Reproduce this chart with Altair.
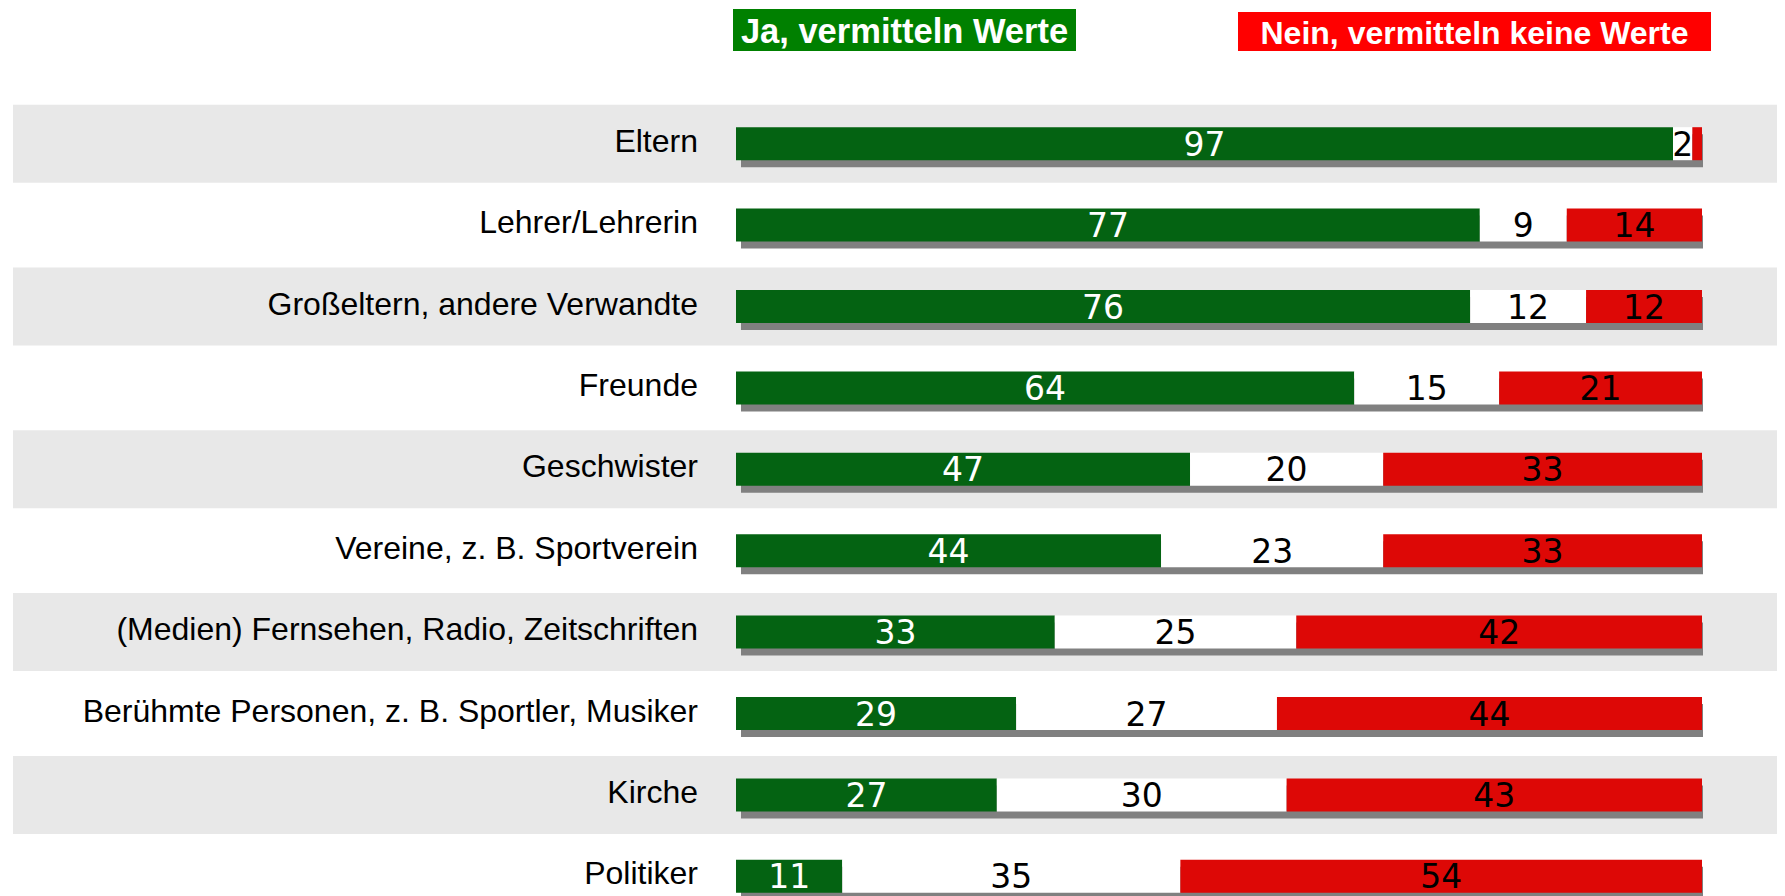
import altair as alt
import pandas as pd

# ---- data ----
categories = [
    "Eltern",
    "Lehrer/Lehrerin",
    "Großeltern, andere Verwandte",
    "Freunde",
    "Geschwister",
    "Vereine, z. B. Sportverein",
    "(Medien) Fernsehen, Radio, Zeitschriften",
    "Berühmte Personen, z. B. Sportler, Musiker",
    "Kirche",
    "Politiker",
]
ja = [97, 77, 76, 64, 47, 44, 33, 29, 27, 11]
weder = [2, 9, 12, 15, 20, 23, 25, 27, 30, 35]
nein = [1, 14, 12, 21, 33, 33, 42, 44, 43, 54]
series_names = ["Ja", "Weiß nicht", "Nein"]
legend_labels = ["Ja, vermitteln Werte", "Nein, vermitteln keine Werte"]

# ---- styles ----
GREEN = "#046312"
RED = "#DD0806"
LEG_GREEN = "#008000"
LEG_RED = "#FF0000"
BAND = "#E8E8E8"
SHADOW = "#808080"

W = 1764
H = 814

rows = []
for i, c in enumerate(categories):
    for j, (s, v) in enumerate(zip(series_names, [ja[i], weder[i], nein[i]])):
        rows.append({"cat": c, "series": s, "order": j, "value": v, "row": i})
df = pd.DataFrame(rows)
cat_df = pd.DataFrame({"cat": categories, "row": list(range(len(categories)))})
leg_df = pd.DataFrame({"label": legend_labels, "kind": ["ja", "nein"]})

xscale = alt.Scale(domain=[0, 100], range=[723, 1689], nice=False, zero=False)
yscale = alt.Scale(domain=categories, paddingInner=0, paddingOuter=0)
Y = alt.Y("cat:N", scale=yscale, axis=None, sort=categories)

bands = (
    alt.Chart(cat_df)
    .transform_filter("datum.row % 2 == 0")
    .mark_bar(size=78, color=BAND)
    .encode(y=Y, x=alt.value(0), x2=alt.value(W))
)

shadow = (
    alt.Chart(df)
    .transform_aggregate(total="sum(value)", groupby=["cat"])
    .transform_calculate(start="0")
    .mark_bar(size=33, color=SHADOW, xOffset=5, x2Offset=1, yOffset=7)
    .encode(y=Y, x=alt.X("start:Q", scale=xscale, axis=None), x2="total:Q")
)

stacked = alt.Chart(df).transform_stack(
    stack="value", groupby=["cat"], sort=[alt.SortField("order")], as_=["x0", "x1"]
)

segments = stacked.mark_bar(size=33).encode(
    y=Y,
    x=alt.X("x0:Q", scale=xscale, axis=None),
    x2="x1:Q",
    color=alt.Color(
        "series:N",
        scale=alt.Scale(domain=series_names, range=[GREEN, "white", RED]),
        legend=None,
    ),
)

num_base = stacked.transform_calculate(mid="(datum.x0 + datum.x1) / 2").transform_filter(
    "datum.value >= 2"
)
num_ja = num_base.transform_filter("datum.series == 'Ja'").mark_text(
    font="DejaVu Sans", fontSize=33, color="white", align="center", baseline="alphabetic", dy=12
).encode(y=Y, x=alt.X("mid:Q", scale=xscale, axis=None), text="value:Q")
num_other = num_base.transform_filter("datum.series != 'Ja'").mark_text(
    font="DejaVu Sans", fontSize=33, color="black", align="center", baseline="alphabetic", dy=12
).encode(y=Y, x=alt.X("mid:Q", scale=xscale, axis=None), text="value:Q")

labels = (
    alt.Chart(cat_df)
    .mark_text(
        font="Liberation Sans", fontSize=32, color="black", align="right",
        baseline="alphabetic", dy=8,
    )
    .encode(y=Y, x=alt.value(685), text="cat:N")
)

leg_ja_box = (
    alt.Chart(leg_df).transform_filter("datum.kind == 'ja'")
    .mark_rect(color=LEG_GREEN)
    .encode(x=alt.value(720), x2=alt.value(1063), y=alt.value(-94), y2=alt.value(-52))
)
leg_ja_txt = (
    alt.Chart(leg_df).transform_filter("datum.kind == 'ja'")
    .mark_text(font="Liberation Sans", fontWeight="bold", fontSize=34.5, color="white",
               align="center", baseline="alphabetic")
    .encode(x=alt.value(891.5), y=alt.value(-60), text="label:N")
)
leg_nein_box = (
    alt.Chart(leg_df).transform_filter("datum.kind == 'nein'")
    .mark_rect(color=LEG_RED)
    .encode(x=alt.value(1225), x2=alt.value(1698), y=alt.value(-91), y2=alt.value(-52))
)
leg_nein_txt = (
    alt.Chart(leg_df).transform_filter("datum.kind == 'nein'")
    .mark_text(font="Liberation Sans", fontWeight="bold", fontSize=32, color="white",
               align="center", baseline="alphabetic")
    .encode(x=alt.value(1461.5), y=alt.value(-59), text="label:N")
)

chart = (
    alt.layer(
        bands, shadow, segments, num_ja, num_other, labels,
        leg_ja_box, leg_ja_txt, leg_nein_box, leg_nein_txt,
    )
    .properties(
        width=W,
        height=H,
        padding={"left": 5, "top": 95, "right": 0, "bottom": 0},
        autosize=alt.AutoSizeParams(type="none"),
        background="white",
    )
    .configure_view(stroke=None)
)

chart.save("out.html", embed_options={"renderer": "svg", "actions": False})
